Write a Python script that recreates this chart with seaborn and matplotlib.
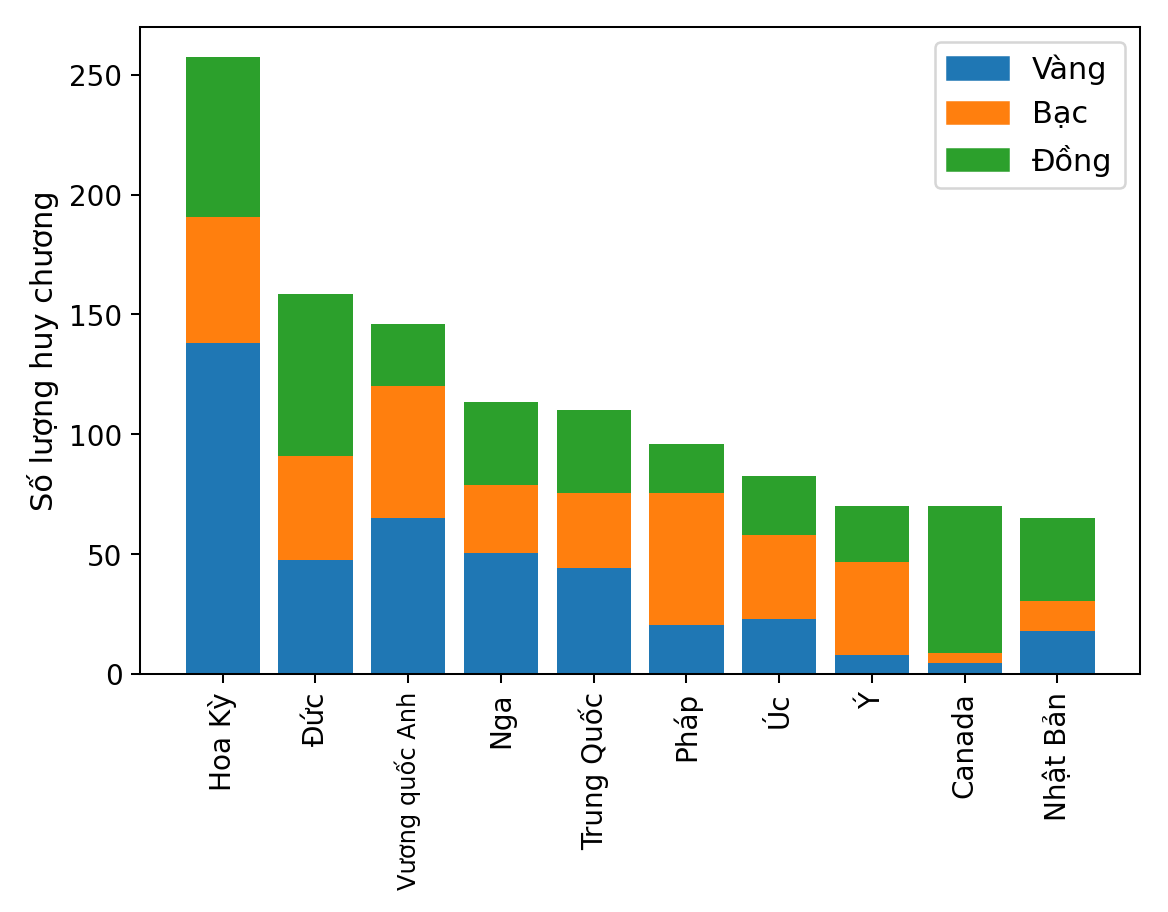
import numpy as np
import pandas as pd
import seaborn as sns
import matplotlib.pyplot as plt
from matplotlib.patches import Patch

countries = ["Hoa Kỳ", "Đức", "Vương quốc Anh", "Nga", "Trung Quốc",
             "Pháp", "Úc", "Ý", "Canada", "Nhật Bản"]
gold = [138, 47.5, 65, 50.5, 44, 20.5, 23, 8, 4.5, 18]
silver = [52.5, 43.5, 55, 28.5, 31.5, 55, 35, 38.5, 4, 12.5]
bronze = [67, 67.5, 26, 34.5, 34.5, 20.5, 24.5, 23.5, 61.5, 34.5]

labels = ["Vàng", "Bạc", "Đồng"]
colors = ["#1f77b4", "#ff7f0e", "#2ca02c"]

df = pd.DataFrame({"country": countries, "gold": gold,
                   "silver": silver, "bronze": bronze})
df["gs"] = df["gold"] + df["silver"]
df["total"] = df["gs"] + df["bronze"]

fig, ax = plt.subplots(figsize=(6.4, 5), dpi=182.5)

# stack by drawing the cumulative heights from tallest to shortest
for col, c in zip(["total", "gs", "gold"], colors[::-1]):
    sns.barplot(data=df, x="country", y=col, color=c, width=0.8,
                linewidth=0, saturation=1, ax=ax)

ax.set_xlim(-0.89, 9.89)
ax.set_ylim(0, 270)
ax.set_yticks([0, 50, 100, 150, 200, 250])
ax.set_xlabel("")
ax.set_ylabel("Số lượng huy chương", fontsize=12)
ax.tick_params(axis="x", rotation=90, labelsize=11)
ax.tick_params(axis="y", labelsize=11)
# the long label is squeezed a little in the original
ax.get_xticklabels()[2].set_fontsize(9.5)

handles = [Patch(color=c, label=l) for c, l in zip(colors, labels)]
ax.legend(handles=handles, loc="upper right", fontsize=12)

fig.subplots_adjust(left=0.12, right=0.976, top=0.97, bottom=0.261)
fig.savefig("out.png")
